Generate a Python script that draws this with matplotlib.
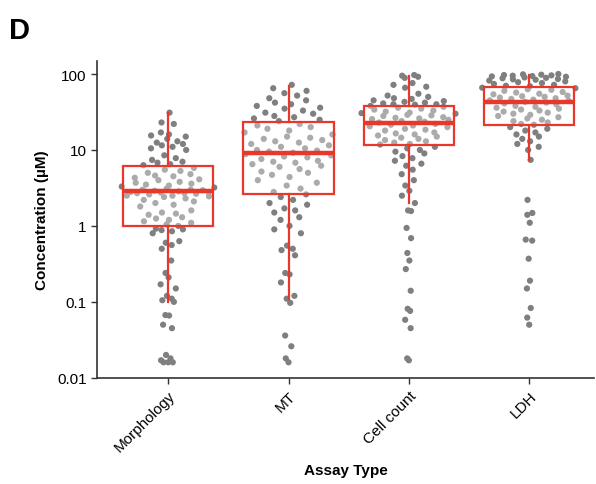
import numpy as np
import matplotlib
matplotlib.use("Agg")
import matplotlib.pyplot as plt

plt.rcParams['font.family'] = ['Liberation Sans', 'DejaVu Sans']

categories = ["Morphology", "MT", "Cell count", "LDH"]

# concentrations (uM)
morphology = [
    31, 23, 22, 17, 16, 15.5, 15, 14, 13, 12.5, 12, 11.5, 11, 10.5, 10,
    8.5, 7.8, 7.4, 7, 6.8, 6.5, 6.3,
    5.8, 5.5, 5.3, 5, 4.8, 4.6, 4.5, 4.3, 4.1, 4.0, 3.8, 3.7, 3.6, 3.5, 3.4,
    3.3, 3.2, 3.1, 3.0, 3.0, 2.95,
    2.9, 2.85, 2.8, 2.8, 2.75, 2.7, 2.7, 2.65, 2.6, 2.5, 2.5, 2.45, 2.4, 2.3,
    2.2, 2.1, 2.0, 1.9, 1.8,
    1.6, 1.5, 1.45, 1.4, 1.3, 1.25, 1.2, 1.15, 1.1, 1.05, 1.0,
    0.92, 0.9, 0.88, 0.85, 0.8, 0.63, 0.6, 0.56, 0.5, 0.35, 0.24, 0.21, 0.17,
    0.15, 0.12, 0.11, 0.105, 0.1, 0.067, 0.066, 0.05, 0.045,
    0.02, 0.018, 0.017, 0.016, 0.016, 0.016,
]
mt = [
    72, 65, 60, 56, 52, 48, 45, 42, 40, 38, 36, 35, 33, 31, 30, 28, 27, 26, 25, 24,
    22, 21, 20, 19, 18, 17, 16, 15, 14.5, 14, 13.5, 13, 12.5, 12, 11.5, 11, 10.5,
    10, 9.8, 9.5, 9.2,
    8.8, 8.5, 8.2, 8, 7.6, 7.2, 7, 6.8, 6.5, 6.2, 6, 5.6, 5.2, 5, 4.7, 4.4, 4,
    3.7, 3.4, 3.1, 2.8, 2.6,
    2.4, 2.2, 2, 1.9, 1.7, 1.6, 1.5, 1.3, 1.2, 1.0, 0.9, 0.8, 0.55, 0.5, 0.48,
    0.41, 0.24, 0.23, 0.18, 0.12, 0.11, 0.097, 0.036, 0.026, 0.018, 0.016,
]
cell_count = [
    97, 95, 92, 89, 76, 72, 68, 66, 55, 52, 50, 48, 47, 45, 44, 43, 42, 41, 40,
    40, 39.5,
    38, 37, 36, 35, 34, 33, 32, 31, 30.5, 30, 29, 28.5, 28, 27, 26.5, 26, 25.5,
    25, 24, 23.5, 23,
    22, 21.5, 21, 20.5, 20, 19, 18.5, 18, 17, 16.5, 16, 15.5, 15, 14.5, 14,
    13.5, 13, 12.5, 12, 11.8,
    11, 10.5, 10, 9.5, 9, 8.3, 7.8, 7.2, 6.6, 6.2, 5.5, 4.8, 4, 3.4, 2.9, 2.5,
    2.0, 1.6, 1.57, 0.94, 0.69, 0.44, 0.35, 0.27, 0.14, 0.081, 0.076, 0.058,
    0.045, 0.018, 0.017,
]
ldh = [
    100, 99, 98, 97, 96, 95, 94, 93, 92, 90, 89, 88, 86, 85, 84, 82, 80, 78,
    76, 74, 72, 70, 69,
    66, 65, 63, 62, 60, 58, 57, 55, 54, 52, 51, 50, 49, 48, 47, 46, 45, 44.5,
    43, 42, 41, 40, 38, 37, 36, 35, 34, 33, 32, 31, 30, 29, 28, 27, 26, 25,
    24, 23, 22, 21.5,
    20, 19, 18, 17, 16, 15, 14, 13, 12, 11, 10, 7.4, 2.2, 1.48, 1.4, 1.1, 0.66,
    0.64, 0.37, 0.19, 0.15, 0.083, 0.062, 0.05,
]
groups = [morphology, mt, cell_count, ldh]

# box summaries
whislo = [0.1, 0.11, 2.0, 7.4]
q1 = [1.0, 2.6, 11.5, 21]
med = [2.9, 9.0, 22.5, 43]
q3 = [6.1, 23, 38, 67]
whishi = [31, 70, 93, 98]


def vdc(n, base=2):
    v, denom = 0.0, 1.0
    while n:
        denom *= base
        n, rem = divmod(n, base)
        v += rem / denom
    return v


def quasirandom(vals, width=0.4, adjust=0.7):
    y = np.log10(np.asarray(vals, float))
    n = len(y)
    iqr = np.subtract(*np.percentile(y, [75, 25]))
    bw = adjust * 0.9 * min(y.std(ddof=1), iqr / 1.34) * n ** -0.2
    dens = np.exp(-0.5 * ((y[:, None] - y[None, :]) / bw) ** 2).sum(1)
    dens = dens / dens.max()
    order = np.argsort(y)
    off = np.zeros(n)
    for rank, idx in enumerate(order):
        off[idx] = (vdc(rank + 1) - 0.5) * 2 * width * dens[idx]
    return off


fig = plt.figure(figsize=(5.96, 4.85), dpi=100)
ax = fig.add_axes([0.163, 0.219, 0.834, 0.653])

for i, vals in enumerate(groups):
    ax.scatter(i + quasirandom(vals), vals, s=20, color='#7f7f7f',
               edgecolors='none', zorder=2)

stats = [dict(whislo=whislo[i], q1=q1[i], med=med[i], q3=q3[i],
              whishi=whishi[i], fliers=[]) for i in range(len(categories))]
red = '#e8382c'
ax.bxp(stats, positions=range(len(categories)), widths=0.75, showcaps=False,
       patch_artist=True,
       boxprops=dict(facecolor=(1, 1, 1, 0.35), edgecolor=red, linewidth=1.6),
       whiskerprops=dict(color=red, linewidth=1.6),
       medianprops=dict(color=red, linewidth=3.2, solid_capstyle='butt'),
       zorder=3)

ax.set_yscale('log')
ax.set_ylim(0.01, 148)
ax.set_xlim(-0.59, 3.54)
ax.set_yticks([0.01, 0.1, 1, 10, 100])
ax.set_yticklabels(['0.01', '0.1', '1', '10', '100'])
ax.minorticks_off()
ax.set_xticks(range(len(categories)))
ax.set_xticklabels(categories, rotation=45, ha='right', rotation_mode='anchor')
ax.tick_params(labelsize=11, length=4, width=1, color='#333333')

for s in ['top', 'right']:
    ax.spines[s].set_visible(False)
for s in ['left', 'bottom']:
    ax.spines[s].set_linewidth(1.2)
    ax.spines[s].set_color('#333333')

ax.set_ylabel('Concentration (µM)', fontsize=11, fontweight='bold', labelpad=6)
ax.set_xlabel('Assay Type', fontsize=11, fontweight='bold', labelpad=6)

fig.text(0.015, 0.965, 'D', fontsize=21, fontweight='bold', va='top')

fig.savefig('out.png', dpi=100)
